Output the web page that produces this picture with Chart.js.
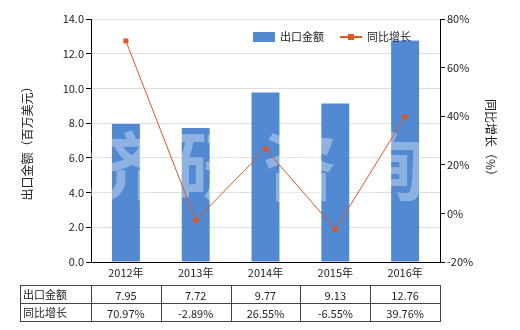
<!DOCTYPE html>
<html><head><meta charset="utf-8">
<script src="https://cdn.jsdelivr.net/npm/chart.js@4"></script>
<style>html,body{margin:0;padding:0;background:#fff}#wrap{width:520px;height:330px}</style>
</head><body><div id="wrap"><canvas id="c" width="520" height="330"></canvas></div>
<script>
const categories = ['2012年','2013年','2014年','2015年','2016年'];
const exportValues = [7.95, 7.72, 9.77, 9.13, 12.76];
const growthValues = [70.97, -2.89, 26.55, -6.55, 39.76];
const exportLabels = ['7.95','7.72','9.77','9.13','12.76'];
const growthLabels = ['70.97%','-2.89%','26.55%','-6.55%','39.76%'];
const seriesNames = ['出口金额','同比增长'];
const leftTitle = '出口金额（百万美元）';
const rightTitle = '同比增长（%）';
const watermark = '济研咨询';

const FONT = '"Noto Sans CJK SC", "Noto Sans", sans-serif';
const BAR = '#5189D3';
const LINE = '#E0561C';
const TXT = '#222';

const extras = {
  id: 'extras',
  afterDatasetDraw(chart, args) {
    if (args.index !== 0) return;
    const ctx = chart.ctx, a = chart.chartArea;
    ctx.save();
    ctx.beginPath(); ctx.rect(a.left, a.top, a.right - a.left, a.bottom - a.top); ctx.clip();
    ctx.fillStyle = 'rgba(255,255,255,0.35)';
    ctx.font = 'bold 74px ' + FONT;
    ctx.textAlign = 'center'; ctx.textBaseline = 'middle';
    const chars = [...watermark];
    chars.forEach((ch, i) => ctx.fillText(ch, 122 + i * 89, 166));
    ctx.restore();
  },
  afterDraw(chart) {
    const ctx = chart.ctx, a = chart.chartArea, xs = chart.scales.x;
    ctx.save();
    // legend
    ctx.font = '11px ' + FONT; ctx.textBaseline = 'middle'; ctx.textAlign = 'left';
    ctx.fillStyle = BAR; ctx.fillRect(253, 32, 22, 10);
    ctx.fillStyle = TXT; ctx.fillText(seriesNames[0], 280, 37);
    ctx.strokeStyle = LINE; ctx.lineWidth = 2;
    ctx.beginPath(); ctx.moveTo(340, 37); ctx.lineTo(362, 37); ctx.stroke();
    ctx.fillStyle = LINE; ctx.fillRect(348, 34, 6, 6);
    ctx.fillStyle = TXT; ctx.fillText(seriesNames[1], 367, 37);
    // table
    const n = categories.length;
    const cw = (a.right - a.left) / n;
    const tl = 20, tr = a.right, r0 = 285, r1 = 303, r2 = 321;
    ctx.strokeStyle = '#444'; ctx.lineWidth = 1;
    ctx.beginPath();
    [r0, r1, r2].forEach(y => { ctx.moveTo(tl, y + 0.5); ctx.lineTo(tr, y + 0.5); });
    ctx.moveTo(tl + 0.5, r0); ctx.lineTo(tl + 0.5, r2 + 1);
    for (let i = 0; i <= n; i++) {
      const x = Math.round(a.left + i * cw) + 0.5;
      ctx.moveTo(x, r0); ctx.lineTo(x, r2 + 1);
    }
    ctx.stroke();
    ctx.fillStyle = TXT;
    ctx.textAlign = 'left';
    ctx.fillText(seriesNames[0], tl + 3, (r0 + r1) / 2 + 1);
    ctx.fillText(seriesNames[1], tl + 3, (r1 + r2) / 2 + 1);
    ctx.textAlign = 'center';
    for (let i = 0; i < n; i++) {
      const x = xs.getPixelForValue(i);
      ctx.fillText(exportLabels[i], x, (r0 + r1) / 2 + 2);
      ctx.fillText(growthLabels[i], x, (r1 + r2) / 2 + 2);
    }
    ctx.restore();
  }
};

new Chart(document.getElementById('c'), {
  data: {
    labels: categories,
    datasets: [
      { type: 'bar', label: seriesNames[0], data: exportValues, backgroundColor: BAR,
        yAxisID: 'y', barPercentage: 0.8, categoryPercentage: 0.5, order: 1 },
      { type: 'line', label: seriesNames[1], data: growthValues, borderColor: LINE, backgroundColor: LINE,
        borderWidth: 1, pointStyle: 'rect', pointRadius: 3.5, pointBorderWidth: 0,
        yAxisID: 'y1', order: 0, tension: 0 }
    ]
  },
  options: {
    responsive: false, animation: false, devicePixelRatio: 1,
    layout: { padding: { left: 18, right: 20, top: 19, bottom: 0 } },
    plugins: { legend: { display: false }, tooltip: { enabled: false } },
    scales: {
      x: {
        grid: { display: false, drawTicks: false },
        border: { color: '#000', width: 1 },
        ticks: { color: TXT, font: { size: 11, family: FONT }, padding: 4, maxRotation: 0 },
        afterFit: s => { s.height = 68; }
      },
      y: {
        position: 'left', min: 0, max: 14,
        grid: { color: '#dedede', tickColor: '#000', tickLength: 5 },
        border: { color: '#000', width: 1 },
        ticks: { stepSize: 2, color: TXT, font: { size: 11, family: FONT }, padding: 2,
          callback: v => v.toFixed(1) },
        title: { display: true, text: leftTitle, color: TXT, font: { size: 12, family: FONT }, padding: 2 },
        afterFit: s => { s.width = 73; }
      },
      y1: {
        position: 'right', min: -20, max: 80,
        grid: { drawOnChartArea: false, tickColor: '#000', tickLength: 5 },
        border: { color: '#000', width: 1 },
        ticks: { stepSize: 20, color: TXT, font: { size: 11, family: FONT }, padding: 2,
          callback: v => v + '%' },
        title: { display: true, text: rightTitle, color: TXT, font: { size: 12, family: FONT }, padding: 2 },
        afterFit: s => { s.width = 60; }
      }
    }
  },
  plugins: [extras]
});
</script></body></html>
